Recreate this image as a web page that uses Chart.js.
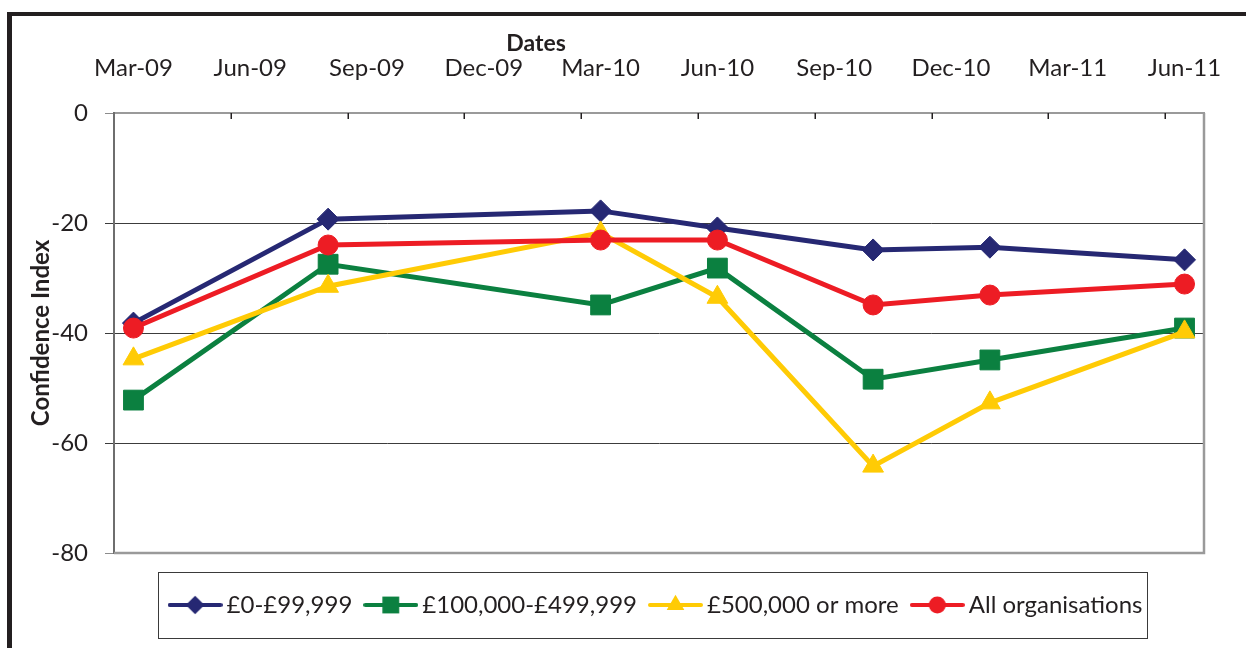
<!DOCTYPE html>
<html>
<head>
<meta charset="utf-8">
<script src="https://cdn.jsdelivr.net/npm/chart.js@4"></script>
<style>
  html, body { margin: 0; padding: 0; background: #fff; }
  #wrap { position: relative; width: 1246px; height: 648px; overflow: hidden; }
  #frame { position: absolute; left: 7px; top: 12px; width: 1300px; height: 700px;
           border-top: 4px solid #231f20; border-left: 5px solid #231f20; pointer-events: none; }
  canvas { position: absolute; left: 0; top: 0; }
</style>
</head>
<body>
<div id="wrap"><canvas id="chart" width="1246" height="648"></canvas><div id="frame"></div></div>
<script>
// Quarterly tick labels, axis counted in months from Mar-09 (0) to Jun-11 (27)
const tickLabels = ['Mar-09', 'Jun-09', 'Sep-09', 'Dec-09', 'Mar-10', 'Jun-10', 'Sep-10', 'Dec-10', 'Mar-11', 'Jun-11'];
const surveyMonths = [0, 5, 12, 15, 19, 22, 27];

// Confidence index per survey
const smallOrgs = [-38.2, -19.3, -17.8, -20.9, -24.9, -24.4, -26.7];
const mediumOrgs = [-52.2, -27.5, -34.9, -28.2, -48.4, -44.9, -39.1];
const largeOrgs = [-44.7, -31.5, -21.8, -33.5, -64.2, -52.7, -39.8];
const allOrgs = [-39.1, -24.0, -23.1, -23.1, -34.9, -33.1, -31.1];

const TXT = '#231f20';
const FONT = 'Lato';

function series(label, values, color, style, radius, order) {
	return {
		label: label,
		data: values.map((v, i) => ({ x: surveyMonths[i], y: v })),
		borderColor: color,
		backgroundColor: color,
		borderWidth: 5,
		pointStyle: style,
		pointRadius: radius,
		pointBorderWidth: 1,
		pointBorderColor: color,
		pointBackgroundColor: color,
		order: order
	};
}

// legend sample: a short line with the marker in the middle
function legendIcon(ds) {
	const c = document.createElement('canvas');
	c.width = 55; c.height = 26;
	const g = c.getContext('2d');
	g.strokeStyle = ds.borderColor;
	g.lineWidth = 4;
	g.lineCap = 'round';
	g.beginPath(); g.moveTo(2, 13); g.lineTo(53, 13); g.stroke();
	g.fillStyle = ds.borderColor;
	Chart.helpers.drawPoint(g, { pointStyle: ds.pointStyle, radius: ds.pointRadius * 0.85, borderWidth: 0 }, 27.5, 13);
	return c;
}

const legendFrame = {
	id: 'legendFrame',
	afterDraw(chart) {
		const boxes = chart.legend.legendHitBoxes;
		if (!boxes || !boxes.length) return;
		const first = boxes[0], last = boxes[boxes.length - 1];
		const cy = first.top + first.height / 2;
		const x0 = Math.round(first.left - 18), x1 = Math.round(last.left + last.width + 5);
		const ctx = chart.ctx;
		ctx.save();
		ctx.strokeStyle = '#3a3a3a';
		ctx.lineWidth = 1;
		ctx.strokeRect(x0 + 0.5, Math.round(cy - 33) + 0.5, x1 - x0, 66);
		ctx.restore();
	}
};

const axisExtras = {
	id: 'axisExtras',
	beforeDatasetsDraw(chart) {
		const { ctx, chartArea: a } = chart;
		ctx.save();
		ctx.strokeStyle = '#9a9a9a';
		ctx.lineWidth = 2.5;
		ctx.beginPath();
		ctx.moveTo(a.right, a.top); ctx.lineTo(a.right, a.bottom); ctx.lineTo(a.left, a.bottom);
		ctx.stroke();
		ctx.restore();
	},
	afterDraw(chart) {
		const { ctx, chartArea: a } = chart;
		const xs = chart.scales.x;
		ctx.save();
		// quarter boundary tick marks, pointing into the plot
		ctx.strokeStyle = '#231f20';
		ctx.lineWidth = 1.5;
		for (let m = 2.5; m < 27.5; m += 3) {
			const px = Math.round(xs.getPixelForValue(m)) + 0.25;
			ctx.beginPath(); ctx.moveTo(px, a.top); ctx.lineTo(px, a.top + 6); ctx.stroke();
		}
		// axis title sits left of centre in the original
		ctx.fillStyle = TXT;
		ctx.font = 'bold 23px ' + FONT;
		ctx.textAlign = 'center';
		ctx.textBaseline = 'middle';
		ctx.fillText('Dates', a.left + 422, 44);
		ctx.restore();
	}
};

new Chart(document.getElementById('chart'), {
	type: 'line',
	data: {
		datasets: [
			series('£0-£99,999', smallOrgs, '#262873', 'rectRot', 11, 3),
			series('£100,000-£499,999', mediumOrgs, '#0b8040', 'rect', 14, 2),
			series('£500,000 or more', largeOrgs, '#ffcb05', 'triangle', 12, 1),
			series('All organisations', allOrgs, '#ed1c24', 'circle', 10, 0)
		]
	},
	options: {
		responsive: false,
		animation: false,
		clip: false,
		layout: { autoPadding: false, padding: { top: 30, left: 14, right: 42, bottom: 21 } },
		scales: {
			x: {
				type: 'linear',
				position: 'top',
				min: -0.5,
				max: 27.5,
				afterBuildTicks: s => { s.ticks = tickLabels.map((_, i) => ({ value: i * 3 })); },
				afterFit: s => { s.height = 83; },
				ticks: {
					callback: (v, i) => tickLabels[i],
					padding: 22,
					maxRotation: 0,
					autoSkip: false,
					color: TXT,
					font: { family: FONT, size: 24 }
				},
				grid: { display: false },
				border: { display: true, color: '#9a9a9a', width: 2 }
			},
			// empty bottom axis only keeps the gap above the legend
			gap: {
				type: 'linear',
				position: 'bottom',
				display: true,
				afterFit: s => { s.height = 21; },
				ticks: { display: false },
				grid: { display: false },
				border: { display: false }
			},
			y: {
				min: -80,
				max: 0,
				afterFit: s => { s.width = 100; },
				ticks: { stepSize: 20, padding: 17, color: TXT, font: { family: FONT, size: 24 } },
				grid: {
					color: c => (c.tick && (c.tick.value === 0 || c.tick.value === -80)) ? '#8c8c8c' : '#3c3c3c',
					lineWidth: 1,
					tickLength: 9
				},
				border: { color: '#6e6e6e', width: 2 },
				title: {
					display: true,
					text: 'Confidence Index',
					color: TXT,
					font: { family: FONT, size: 24, weight: 'bold' },
					padding: { top: 13, bottom: 0 }
				}
			}
		},
		plugins: {
			tooltip: { enabled: false },
			legend: {
				position: 'bottom',
				fullSize: false,
				labels: {
					usePointStyle: true,
					pointStyleWidth: 39,
					padding: 19,
					color: TXT,
					font: { family: FONT, size: 24 },
					generateLabels(chart) {
						return chart.data.datasets.map((ds, i) => ({
							text: ds.label,
							pointStyle: legendIcon(ds),
							fillStyle: ds.borderColor,
							strokeStyle: ds.borderColor,
							lineWidth: 0,
							hidden: false,
							datasetIndex: i,
							fontColor: TXT
						}));
					}
				}
			}
		}
	},
	plugins: [legendFrame, axisExtras]
});
</script>
</body>
</html>
